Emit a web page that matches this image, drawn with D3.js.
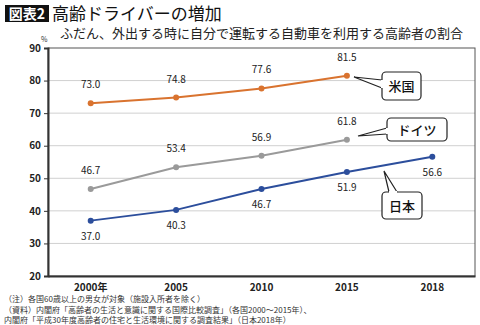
<!DOCTYPE html>
<html>
<head>
<meta charset="utf-8">
<script src="https://cdn.jsdelivr.net/npm/d3@7"></script>
<style>
  body { margin: 0; background: #fff; }
  svg text { font-family: "Noto Sans CJK JP", "Noto Sans", sans-serif; }
</style>
</head>
<body>
<div id="main"></div>
<script>
const years = ["2000年", "2005", "2010", "2015", "2018"];
const usa = [73.0, 74.8, 77.6, 81.5, null];
const germany = [46.7, 53.4, 56.9, 61.8, null];
const japan = [37.0, 40.3, 46.7, 51.9, 56.6];
const yTicks = [20, 30, 40, 50, 60, 70, 80, 90];

const width = 480;
const height = 325;
const margin = { top: 48, right: 5, bottom: 49, left: 48 };

const svg = d3.select("#main").append("svg")
    .attr("width", width)
    .attr("height", height);

// title
svg.append("rect")
    .attr("x", 5).attr("y", 5).attr("width", 44).attr("height", 17)
    .attr("fill", "#111");
svg.append("text")
    .attr("x", 27).attr("y", 19)
    .attr("text-anchor", "middle")
    .attr("fill", "#fff")
    .attr("font-size", 14)
    .attr("font-weight", "bold")
    .text("図表2");
svg.append("text")
    .attr("x", 52).attr("y", 20)
    .attr("font-size", 17)
    .attr("fill", "#111")
    .text("高齢ドライバーの増加");
svg.append("text")
    .attr("x", 60).attr("y", 38)
    .attr("font-size", 13)
    .attr("fill", "#222")
    .text("ふだん、外出する時に自分で運転する自動車を利用する高齢者の割合");

const x = d3.scaleBand()
    .domain(years)
    .range([margin.left, width - margin.right]);

const y = d3.scaleLinear()
    .domain([20, 90])
    .range([height - margin.bottom, margin.top]);

const cx = d => x(d) + x.bandwidth() / 2;

// grid
svg.append("g")
    .selectAll("line")
    .data(yTicks.slice(1, -1))
    .enter()
    .append("line")
    .attr("x1", margin.left).attr("x2", width - margin.right)
    .attr("y1", d => y(d)).attr("y2", d => y(d))
    .attr("stroke", "#d0d0d0");

// frame
svg.append("rect")
    .attr("x", margin.left).attr("y", margin.top)
    .attr("width", width - margin.left - margin.right)
    .attr("height", height - margin.top - margin.bottom)
    .attr("fill", "none")
    .attr("stroke", "#555");

const yAxis = svg.append("g")
    .attr("transform", `translate(${margin.left},0)`)
    .call(d3.axisLeft(y).tickValues(yTicks).tickSize(4).tickFormat(d3.format("d")));
yAxis.select(".domain").attr("stroke", "#333").attr("stroke-width", 2);
yAxis.selectAll("text")
    .attr("font-size", 10).attr("font-weight", "bold").attr("fill", "#222")
    .attr("font-family", "Liberation Sans, sans-serif");
yAxis.selectAll(".tick line").attr("stroke", "#333");

svg.append("text")
    .attr("x", 41).attr("y", 42)
    .attr("font-size", 7).attr("fill", "#333")
    .text("%");

const xAxis = svg.append("g")
    .attr("transform", `translate(0,${height - margin.bottom})`)
    .call(d3.axisBottom(x).tickSize(0).tickPadding(8));
xAxis.select(".domain").attr("stroke", "#333").attr("stroke-width", 2);
xAxis.selectAll("text")
    .attr("font-size", 10).attr("font-weight", "bold").attr("fill", "#222");

const series = [
    { name: "米国", values: usa, color: "#d9732f", labelDy: -15 },
    { name: "ドイツ", values: germany, color: "#9a9a9a", labelDy: -15 },
    { name: "日本", values: japan, color: "#2c4e9c", labelDy: 19 }
];

const line = d3.line()
    .x(d => cx(d.year))
    .y(d => y(d.v));

series.forEach(s => {
    const pts = years.map((yr, i) => ({ year: yr, v: s.values[i] })).filter(d => d.v != null);
    svg.append("path")
        .datum(pts)
        .attr("d", line)
        .attr("fill", "none")
        .attr("stroke", s.color)
        .attr("stroke-width", 2);
    svg.append("g")
        .selectAll("circle")
        .data(pts)
        .enter()
        .append("circle")
        .attr("cx", d => cx(d.year))
        .attr("cy", d => y(d.v))
        .attr("r", 3)
        .attr("fill", s.color);
    svg.append("g")
        .selectAll("text")
        .data(pts)
        .enter()
        .append("text")
        .attr("x", d => cx(d.year))
        .attr("y", d => y(d.v) + s.labelDy)
        .attr("text-anchor", "middle")
        .attr("font-size", 10)
        .attr("fill", "#222")
        .text(d => d.v.toFixed(1));
});

// callouts
function callout(label, bx, by, bw, bh, tip, base1, base2) {
    const g = svg.append("g");
    g.append("rect")
        .attr("x", bx).attr("y", by).attr("width", bw).attr("height", bh)
        .attr("rx", 4)
        .attr("fill", "#fff").attr("stroke", "#222").attr("stroke-width", 1.2);
    g.append("path")
        .attr("d", `M${base1[0]},${base1[1]}L${tip[0]},${tip[1]}L${base2[0]},${base2[1]}`)
        .attr("fill", "#fff").attr("stroke", "#222").attr("stroke-width", 1.2);
    g.append("line")
        .attr("x1", base1[0]).attr("y1", base1[1]).attr("x2", base2[0]).attr("y2", base2[1])
        .attr("stroke", "#fff").attr("stroke-width", 2);
    g.append("text")
        .attr("x", bx + bw / 2).attr("y", by + bh / 2 + 5)
        .attr("text-anchor", "middle")
        .attr("font-size", 13)
        .attr("font-weight", 500)
        .attr("fill", "#111")
        .text(label);
}
callout("米国", 382, 72, 39, 28, [354, 77], [382, 80], [382, 88]);
callout("ドイツ", 387, 118, 60, 23, [358, 136], [387, 128], [387, 134]);
callout("日本", 382, 192, 40, 27, [384, 171], [389, 192], [397, 192]);

// notes
const notes = [
    "（注）各国60歳以上の男女が対象（施設入所者を除く）",
    "（資料）内閣府「高齢者の生活と意識に関する国際比較調査」（各国2000～2015年）、",
    "内閣府「平成30年度高齢者の住宅と生活環境に関する調査結果」（日本2018年）"
];
svg.append("g")
    .selectAll("text")
    .data(notes)
    .enter()
    .append("text")
    .attr("x", 4)
    .attr("y", (d, i) => 302 + i * 10.5)
    .attr("font-size", 8)
    .attr("fill", "#333")
    .text(d => d);
</script>
</body>
</html>
